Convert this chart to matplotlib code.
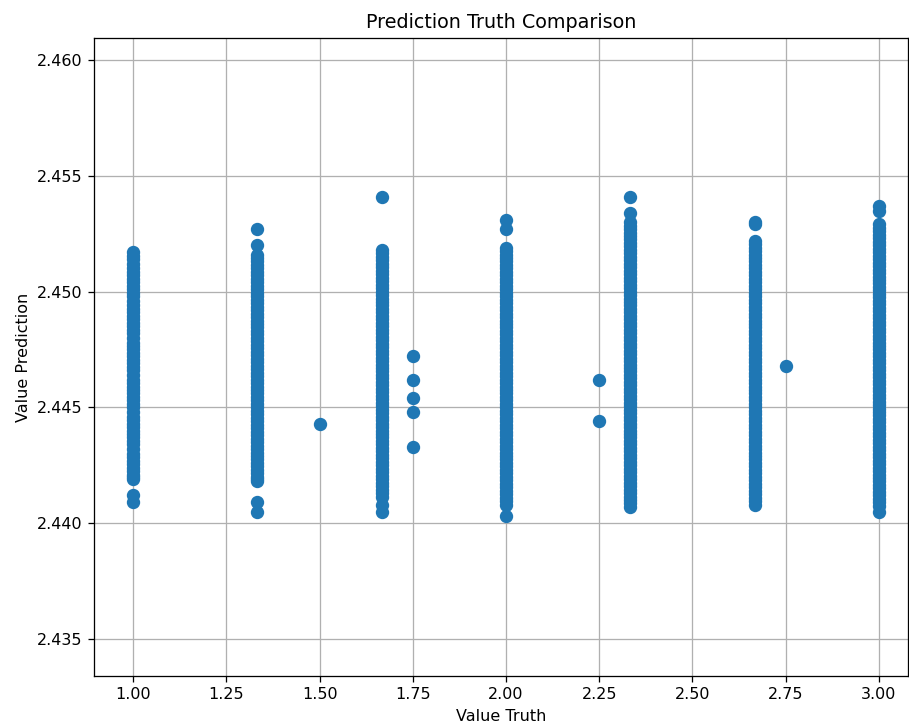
import matplotlib
matplotlib.use("Agg")
import matplotlib.pyplot as plt

# truth levels (x) and predictions (y)
truth_levels = [1.0, 1.3333, 1.5, 1.6667, 1.75, 2.0, 2.25, 2.3333, 2.6667, 2.75, 3.0]

pred_100 = [2.4517, 2.4514, 2.4510, 2.4507, 2.4504, 2.4501, 2.4498, 2.4494, 2.4491,
            2.4488, 2.4485, 2.4482, 2.4478, 2.4475, 2.4472, 2.4469, 2.4466, 2.4462,
            2.4459, 2.4456, 2.4453, 2.4450, 2.4446, 2.4443, 2.4440, 2.4437, 2.4434,
            2.4430, 2.4427, 2.4424, 2.4421, 2.4419, 2.4412, 2.4409,
            2.45155, 2.4512, 2.45085, 2.45055, 2.45025, 2.44995, 2.4496, 2.44925,
            2.44895, 2.44865, 2.44835, 2.448, 2.44765, 2.44735, 2.44705, 2.44675,
            2.4464, 2.44605, 2.44575, 2.44545, 2.44515, 2.4448, 2.44445, 2.44415,
            2.44385, 2.44355, 2.4432, 2.44285, 2.44255, 2.44225, 2.442]
pred_133 = [2.4527, 2.4520, 2.4516, 2.4513, 2.4510, 2.4507, 2.4504, 2.4501, 2.4498,
            2.4495, 2.4492, 2.4489, 2.4486, 2.4483, 2.4480, 2.4477, 2.4474, 2.4471,
            2.4468, 2.4465, 2.4462, 2.4459, 2.4456, 2.4453, 2.4450, 2.4447, 2.4444,
            2.4441, 2.4438, 2.4435, 2.4432, 2.4429, 2.4426, 2.4423, 2.4420, 2.4418,
            2.4409, 2.4405,
            2.45145, 2.45115, 2.45085, 2.45055, 2.45025, 2.44995, 2.44965, 2.44935,
            2.44905, 2.44875, 2.44845, 2.44815, 2.44785, 2.44755, 2.44725, 2.44695,
            2.44665, 2.44635, 2.44605, 2.44575, 2.44545, 2.44515, 2.44485, 2.44455,
            2.44425, 2.44395, 2.44365, 2.44335, 2.44305, 2.44275, 2.44245, 2.44215,
            2.4419]
pred_150 = [2.4443]
pred_167 = [2.4541, 2.4518, 2.4515, 2.4512, 2.4509, 2.4506, 2.4503, 2.4500, 2.4497,
            2.4494, 2.4491, 2.4488, 2.4485, 2.4482, 2.4479, 2.4476, 2.4473, 2.4470,
            2.4467, 2.4464, 2.4461, 2.4458, 2.4455, 2.4452, 2.4449, 2.4446, 2.4443,
            2.4440, 2.4437, 2.4434, 2.4431, 2.4428, 2.4425, 2.4422, 2.4419, 2.4416,
            2.4413, 2.4408, 2.4405,
            2.45165, 2.45135, 2.45105, 2.45075, 2.45045, 2.45015, 2.44985, 2.44955,
            2.44925, 2.44895, 2.44865, 2.44835, 2.44805, 2.44775, 2.44745, 2.44715,
            2.44685, 2.44655, 2.44625, 2.44595, 2.44565, 2.44535, 2.44505, 2.44475,
            2.44445, 2.44415, 2.44385, 2.44355, 2.44325, 2.44295, 2.44265, 2.44235,
            2.44205, 2.44175, 2.44145, 2.44115]
pred_175 = [2.4472, 2.4462, 2.4454, 2.4448, 2.4433]
pred_200 = [2.4531, 2.4527, 2.4519, 2.4516, 2.4513, 2.4510, 2.4507, 2.4504, 2.4501,
            2.4498, 2.4495, 2.4492, 2.4489, 2.4486, 2.4483, 2.4480, 2.4477, 2.4474,
            2.4471, 2.4468, 2.4465, 2.4462, 2.4459, 2.4456, 2.4453, 2.4450, 2.4447,
            2.4444, 2.4441, 2.4438, 2.4435, 2.4432, 2.4429, 2.4426, 2.4423, 2.4420,
            2.4417, 2.4414, 2.4411, 2.4408, 2.4403,
            2.45175, 2.45145, 2.45115, 2.45085, 2.45055, 2.45025, 2.44995, 2.44965,
            2.44935, 2.44905, 2.44875, 2.44845, 2.44815, 2.44785, 2.44755, 2.44725,
            2.44695, 2.44665, 2.44635, 2.44605, 2.44575, 2.44545, 2.44515, 2.44485,
            2.44455, 2.44425, 2.44395, 2.44365, 2.44335, 2.44305, 2.44275, 2.44245,
            2.44215, 2.44185, 2.44155, 2.44125, 2.44095]
pred_225 = [2.4462, 2.4444]
pred_233 = [2.4541, 2.4534, 2.4530, 2.4527, 2.4524, 2.4521, 2.4518, 2.4515, 2.4512,
            2.4509, 2.4506, 2.4503, 2.4500, 2.4497, 2.4494, 2.4491, 2.4488, 2.4485,
            2.4482, 2.4479, 2.4476, 2.4473, 2.4470, 2.4467, 2.4464, 2.4461, 2.4458,
            2.4455, 2.4452, 2.4449, 2.4446, 2.4443, 2.4440, 2.4437, 2.4434, 2.4431,
            2.4428, 2.4425, 2.4422, 2.4419, 2.4416, 2.4413, 2.4410, 2.4407,
            2.45285, 2.45255, 2.45225, 2.45195, 2.45165, 2.45135, 2.45105, 2.45075,
            2.45045, 2.45015, 2.44985, 2.44955, 2.44925, 2.44895, 2.44865, 2.44835,
            2.44805, 2.44775, 2.44745, 2.44715, 2.44685, 2.44655, 2.44625, 2.44595,
            2.44565, 2.44535, 2.44505, 2.44475, 2.44445, 2.44415, 2.44385, 2.44355,
            2.44325, 2.44295, 2.44265, 2.44235, 2.44205, 2.44175, 2.44145, 2.44115,
            2.44085]
pred_267 = [2.4530, 2.4529, 2.4522, 2.4519, 2.4516, 2.4513, 2.4510, 2.4507, 2.4504,
            2.4501, 2.4498, 2.4495, 2.4492, 2.4489, 2.4486, 2.4483, 2.4480, 2.4477,
            2.4474, 2.4471, 2.4468, 2.4465, 2.4462, 2.4459, 2.4456, 2.4453, 2.4450,
            2.4447, 2.4444, 2.4441, 2.4438, 2.4435, 2.4432, 2.4429, 2.4426, 2.4423,
            2.4420, 2.4417, 2.4414, 2.4411, 2.4408,
            2.45205, 2.45175, 2.45145, 2.45115, 2.45085, 2.45055, 2.45025, 2.44995,
            2.44965, 2.44935, 2.44905, 2.44875, 2.44845, 2.44815, 2.44785, 2.44755,
            2.44725, 2.44695, 2.44665, 2.44635, 2.44605, 2.44575, 2.44545, 2.44515,
            2.44485, 2.44455, 2.44425, 2.44395, 2.44365, 2.44335, 2.44305, 2.44275,
            2.44245, 2.44215, 2.44185, 2.44155, 2.44125, 2.44095]
pred_275 = [2.4468]
pred_300 = [2.4537, 2.4535, 2.4529, 2.4526, 2.4523, 2.4520, 2.4517, 2.4514, 2.4511,
            2.4508, 2.4505, 2.4502, 2.4499, 2.4496, 2.4493, 2.4490, 2.4487, 2.4484,
            2.4481, 2.4478, 2.4475, 2.4472, 2.4469, 2.4466, 2.4463, 2.4460, 2.4457,
            2.4454, 2.4451, 2.4448, 2.4445, 2.4442, 2.4439, 2.4436, 2.4433, 2.4430,
            2.4427, 2.4424, 2.4421, 2.4418, 2.4415, 2.4412, 2.4409, 2.4405,
            2.45275, 2.45245, 2.45215, 2.45185, 2.45155, 2.45125, 2.45095, 2.45065,
            2.45035, 2.45005, 2.44975, 2.44945, 2.44915, 2.44885, 2.44855, 2.44825,
            2.44795, 2.44765, 2.44735, 2.44705, 2.44675, 2.44645, 2.44615, 2.44585,
            2.44555, 2.44525, 2.44495, 2.44465, 2.44435, 2.44405, 2.44375, 2.44345,
            2.44315, 2.44285, 2.44255, 2.44225, 2.44195, 2.44165, 2.44135, 2.44105,
            2.44075]

columns = [pred_100, pred_133, pred_150, pred_167, pred_175, pred_200,
           pred_225, pred_233, pred_267, pred_275, pred_300]

truth, pred = [], []
for t, col in zip(truth_levels, columns):
    truth += [t] * len(col)
    pred += col

DPI = 115
fig = plt.figure(figsize=(909 / DPI, 725 / DPI), dpi=DPI)
ax = fig.add_axes([0.1034, 0.0676, 0.8955, 0.88])
ax.scatter(truth, pred, s=54, color="#1f77b4", zorder=3)

ax.set_xlim(0.895, 3.078)
ax.set_ylim(2.4334, 2.46095)
ax.set_xticks([1.0, 1.25, 1.5, 1.75, 2.0, 2.25, 2.5, 2.75, 3.0])
ax.set_yticks([2.435, 2.44, 2.445, 2.45, 2.455, 2.46])
ax.xaxis.set_major_formatter(matplotlib.ticker.FormatStrFormatter("%.2f"))
ax.yaxis.set_major_formatter(matplotlib.ticker.FormatStrFormatter("%.3f"))
ax.grid(True, color="#b0b0b0", lw=0.8)
ax.set_axisbelow(True)

ax.set_title("Prediction Truth Comparison")
ax.set_xlabel("Value Truth")
ax.set_ylabel("Value Prediction")

fig.savefig("out.png", dpi=DPI)
